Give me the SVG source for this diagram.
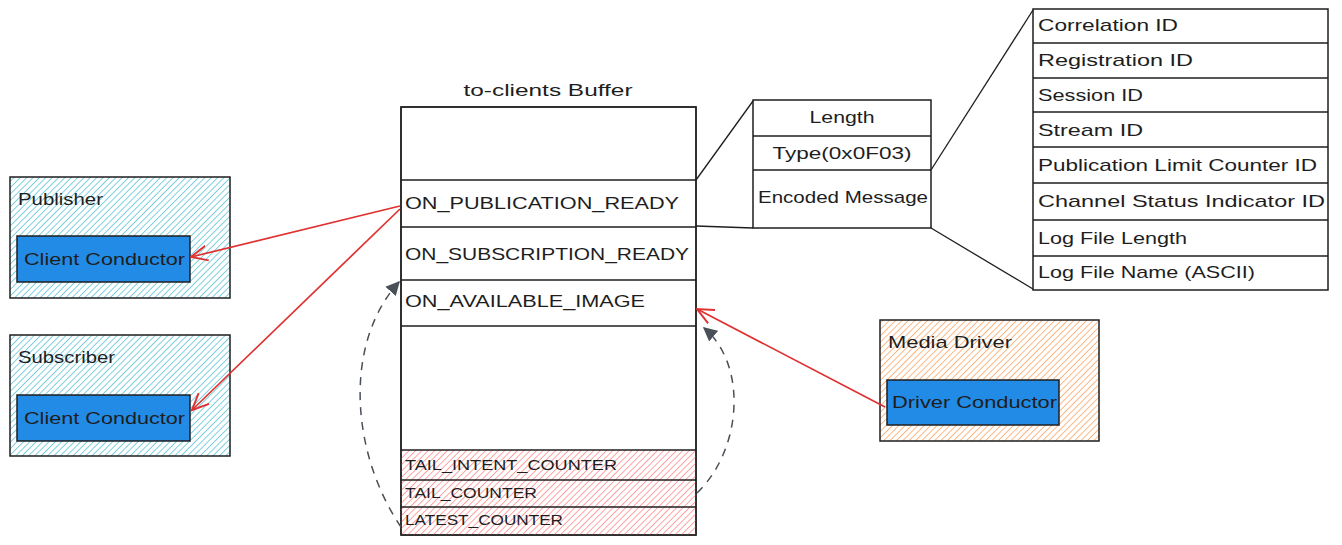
<svg xmlns="http://www.w3.org/2000/svg" width="1342" height="545" viewBox="0 0 1342 545">
<style>
.box{stroke:#1e1e1e;stroke-width:1.5}
.wbox{fill:#fff;stroke:#1e1e1e;stroke-width:1.5}
.blue{fill:#228be6;stroke:#1e1e1e;stroke-width:1.5}
.t{font-family:"Liberation Sans",Arial,sans-serif;font-size:17px;fill:#1e1e1e;dominant-baseline:central}
.m{font-family:"Liberation Sans",Arial,sans-serif;font-size:17px;fill:#1e1e1e;dominant-baseline:central}
.s{font-family:"Liberation Sans",Arial,sans-serif;font-size:14px;fill:#1e1e1e;dominant-baseline:central}
.link{stroke:#1e1e1e;stroke-width:1.3;fill:none}
.red{stroke:#e03131;stroke-width:1.7;fill:none}
.dash{stroke:#495057;stroke-width:1.5;fill:none;stroke-dasharray:8 7}
</style>
<defs>
<pattern id="hCyan" width="4.5" height="4.5" patternUnits="userSpaceOnUse" patternTransform="rotate(45)">
<line x1="0" y1="0" x2="0" y2="4.5" stroke="#55c2d3" stroke-width="1.5"/>
</pattern>
<pattern id="hRed" width="4.5" height="4.5" patternUnits="userSpaceOnUse" patternTransform="rotate(45)">
<line x1="0" y1="0" x2="0" y2="4.5" stroke="#ff8787" stroke-width="1.5"/>
</pattern>
<pattern id="hOrange" width="4.5" height="4.5" patternUnits="userSpaceOnUse" patternTransform="rotate(45)">
<line x1="0" y1="0" x2="0" y2="4.5" stroke="#fda15e" stroke-width="1.5"/>
</pattern>
<marker id="openRed" viewBox="0 0 12 12" refX="11" refY="6" markerWidth="18" markerHeight="18" markerUnits="userSpaceOnUse" orient="auto">
<path d="M0,1 L11,6 L0,11" fill="none" stroke="#e03131" stroke-width="1.3"/>
</marker>
<marker id="triGray" viewBox="0 0 10 10" refX="9" refY="5" markerWidth="14" markerHeight="14" markerUnits="userSpaceOnUse" orient="auto">
<path d="M0,0 L10,5 L0,10 Z" fill="#495057"/>
</marker>
</defs>
<rect width="1342" height="545" fill="#fff"/>

<g id="publisher">
<rect x="10" y="177" width="220" height="121" class="box" style="fill:url(#hCyan)"/>
<text x="18" y="199" class="t" textLength="85" lengthAdjust="spacingAndGlyphs">Publisher</text>
<rect x="17" y="236" width="173" height="46" class="blue"/>
<text x="24" y="259" class="t" textLength="161" lengthAdjust="spacingAndGlyphs">Client Conductor</text>
</g>

<g id="subscriber">
<rect x="10" y="335" width="220" height="121" class="box" style="fill:url(#hCyan)"/>
<text x="18" y="357" class="t" textLength="97" lengthAdjust="spacingAndGlyphs">Subscriber</text>
<rect x="17" y="395" width="173" height="46" class="blue"/>
<text x="24" y="418" class="t" textLength="161" lengthAdjust="spacingAndGlyphs">Client Conductor</text>
</g>

<g id="media-driver">
<rect x="880" y="320" width="219" height="121" class="box" style="fill:url(#hOrange)"/>
<text x="888" y="342" class="t" textLength="124" lengthAdjust="spacingAndGlyphs">Media Driver</text>
<rect x="887" y="380" width="172" height="45" class="blue"/>
<text x="892" y="402" class="t" textLength="165" lengthAdjust="spacingAndGlyphs">Driver Conductor</text>
</g>

<g id="to-clients-buffer">
<text x="548" y="90" class="t" text-anchor="middle" textLength="169" lengthAdjust="spacingAndGlyphs">to-clients Buffer</text>
<rect x="401" y="107" width="295" height="428" class="wbox"/>
<rect x="401" y="450" width="295" height="85" style="fill:url(#hRed)" stroke="none"/>
<line x1="401" y1="180" x2="696" y2="180" class="link"/>
<line x1="401" y1="227" x2="696" y2="227" class="link"/>
<line x1="401" y1="280" x2="696" y2="280" class="link"/>
<line x1="401" y1="326" x2="696" y2="326" class="link"/>
<line x1="401" y1="450" x2="696" y2="450" class="link"/>
<line x1="401" y1="480" x2="696" y2="480" class="link"/>
<line x1="401" y1="507" x2="696" y2="507" class="link"/>
<rect x="401" y="107" width="295" height="428" class="link"/>
<text x="405" y="203" class="m" textLength="274" lengthAdjust="spacingAndGlyphs">ON_PUBLICATION_READY</text>
<text x="405" y="254" class="m" textLength="284" lengthAdjust="spacingAndGlyphs">ON_SUBSCRIPTION_READY</text>
<text x="405" y="301" class="m" textLength="240" lengthAdjust="spacingAndGlyphs">ON_AVAILABLE_IMAGE</text>
<text x="405" y="465" class="s" textLength="212" lengthAdjust="spacingAndGlyphs">TAIL_INTENT_COUNTER</text>
<text x="405" y="493" class="s" textLength="132" lengthAdjust="spacingAndGlyphs">TAIL_COUNTER</text>
<text x="405" y="520" class="s" textLength="158" lengthAdjust="spacingAndGlyphs">LATEST_COUNTER</text>
</g>

<g id="message-header">
<rect x="753" y="100" width="178" height="128" class="wbox"/>
<line x1="753" y1="136" x2="931" y2="136" class="link"/>
<line x1="753" y1="170" x2="931" y2="170" class="link"/>
<text x="842" y="117" class="t" text-anchor="middle" textLength="65" lengthAdjust="spacingAndGlyphs">Length</text>
<text x="842" y="153" class="t" text-anchor="middle" textLength="139" lengthAdjust="spacingAndGlyphs">Type(0x0F03)</text>
<text x="843" y="197" class="t" text-anchor="middle" textLength="170" lengthAdjust="spacingAndGlyphs">Encoded Message</text>
</g>

<g id="message-fields">
<rect x="1033" y="9" width="295" height="281" class="wbox"/>
<line x1="1033" y1="43" x2="1328" y2="43" class="link"/>
<line x1="1033" y1="78" x2="1328" y2="78" class="link"/>
<line x1="1033" y1="112" x2="1328" y2="112" class="link"/>
<line x1="1033" y1="147" x2="1328" y2="147" class="link"/>
<line x1="1033" y1="183" x2="1328" y2="183" class="link"/>
<line x1="1033" y1="220" x2="1328" y2="220" class="link"/>
<line x1="1033" y1="256" x2="1328" y2="256" class="link"/>
<text x="1038" y="25" class="t" textLength="140" lengthAdjust="spacingAndGlyphs">Correlation ID</text>
<text x="1038" y="60" class="t" textLength="155" lengthAdjust="spacingAndGlyphs">Registration ID</text>
<text x="1038" y="95" class="t" textLength="105" lengthAdjust="spacingAndGlyphs">Session ID</text>
<text x="1038" y="130" class="t" textLength="105" lengthAdjust="spacingAndGlyphs">Stream ID</text>
<text x="1038" y="165" class="t" textLength="279" lengthAdjust="spacingAndGlyphs">Publication Limit Counter ID</text>
<text x="1038" y="201" class="t" textLength="287" lengthAdjust="spacingAndGlyphs">Channel Status Indicator ID</text>
<text x="1038" y="238" class="t" textLength="149" lengthAdjust="spacingAndGlyphs">Log File Length</text>
<text x="1038" y="272" class="t" textLength="217" lengthAdjust="spacingAndGlyphs">Log File Name (ASCII)</text>
</g>

<g id="connectors">
<line x1="696" y1="180" x2="753" y2="101" class="link"/>
<line x1="696" y1="226" x2="753" y2="228" class="link"/>
<line x1="931" y1="170" x2="1033" y2="10" class="link"/>
<line x1="931" y1="228" x2="1033" y2="289" class="link"/>
<line x1="400" y1="206" x2="191" y2="257" class="red" marker-end="url(#openRed)"/>
<line x1="400" y1="209" x2="192" y2="410" class="red" marker-end="url(#openRed)"/>
<line x1="885" y1="407" x2="697" y2="309" class="red" marker-end="url(#openRed)"/>
<path d="M401,527 C352,455 342,345 399,282" class="dash" marker-end="url(#triGray)"/>
<path d="M697,493 C742,450 748,365 704,328" class="dash" marker-end="url(#triGray)"/>
</g>
</svg>
